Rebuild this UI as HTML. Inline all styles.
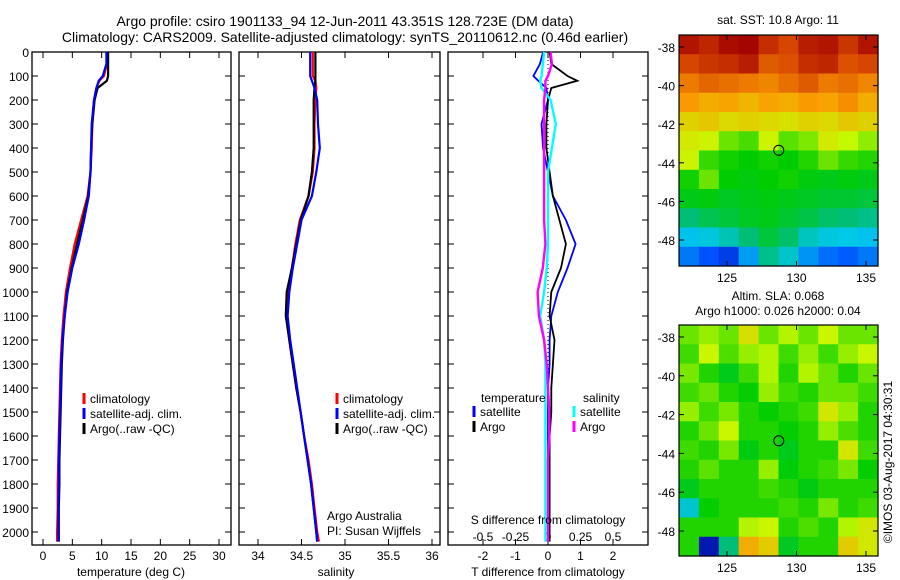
<!DOCTYPE html>
<html><head><meta charset="utf-8">
<style>
html,body{margin:0;padding:0;background:#fff;}
svg{display:block;font-family:"Liberation Sans","DejaVu Sans",sans-serif;}
text{fill:#000;}
</style></head>
<body>
<svg id="fig" width="900" height="580" viewBox="0 0 900 580" xmlns="http://www.w3.org/2000/svg">
<rect x="0" y="0" width="900" height="580" fill="#fff"/>
<text x="345" y="26" font-size="14" text-anchor="middle">Argo profile: csiro 1901133_94 12-Jun-2011 43.351S 128.723E (DM data)</text>
<text x="345" y="42" font-size="14" text-anchor="middle">Climatology: CARS2009. Satellite-adjusted climatology: synTS_20110612.nc (0.46d earlier)</text>
<g id="g"></g>
</svg>
<script>
// ---- profile data ----
const depthTicks = [0,100,200,300,400,500,600,700,800,900,1000,1100,1200,1300,1400,1500,1600,1700,1800,1900,2000];
const tempTicks = [0,5,10,15,20,25,30];
const salTicks = [34,34.5,35,35.5,36];
const salTickLabels = ['34','34.5','35','35.5','36'];
const tdTicks = [-2,-1,0,1,2];
const sdTicks = [-0.5,-0.25,0,0.25,0.5];
const sdTickLabels = ['-0.5','-0.25','0','0.25','0.5'];

const depths = [0,50,100,120,150,200,300,400,500,600,700,800,900,1000,1100,1200,1300,1400,1500,1600,1700,1800,1900,2000,2040];
const tempClim = [10.9,10.9,10.4,9.6,9.1,8.7,8.4,8.3,8.1,7.6,6.5,5.4,4.6,3.9,3.5,3.2,3.0,2.9,2.8,2.7,2.6,2.5,2.5,2.4,2.4];
const tempSat  = [10.8,10.8,10.2,9.5,9.1,8.7,8.3,8.2,8.1,7.8,7.0,6.1,5.0,4.2,3.7,3.3,3.1,3.0,2.9,2.8,2.7,2.7,2.6,2.6,2.6];
const tempArgo = [11.1,11.1,11.1,10.9,9.3,8.8,8.4,8.2,8.1,7.7,6.8,5.8,4.9,4.1,3.7,3.4,3.2,3.1,3.0,2.9,2.8,2.8,2.7,2.7,2.7];
const salClim  = [34.63,34.63,34.63,34.66,34.67,34.66,34.65,34.65,34.63,34.58,34.48,34.43,34.39,34.35,34.33,34.36,34.40,34.44,34.49,34.53,34.58,34.62,34.65,34.68,34.70];
const salSat   = [34.60,34.60,34.60,34.62,34.65,34.68,34.69,34.71,34.67,34.62,34.50,34.45,34.40,34.36,34.34,34.37,34.41,34.45,34.49,34.53,34.57,34.61,34.64,34.67,34.68];
const salArgo  = [34.66,34.66,34.66,34.66,34.65,34.64,34.64,34.64,34.62,34.58,34.49,34.44,34.39,34.33,34.32,34.36,34.40,34.44,34.49,34.53,34.57,34.61,34.64,34.67,34.68];
const tdSat    = [-0.15,-0.25,-0.45,-0.3,-0.05,0.0,-0.2,-0.15,0.0,0.15,0.55,0.85,0.6,0.3,0.1,0.05,0.05,0.0,0.0,0.0,0.0,0.0,0.0,0.0,0.0];
const tdArgo   = [0.05,0.1,0.6,0.9,0.1,0.0,-0.05,-0.05,0.05,0.15,0.35,0.55,0.4,0.1,0.05,0.2,0.15,0.1,0.1,0.05,0.05,0.05,0.05,0.05,0.05];
const sdSat    = [-0.03,-0.04,-0.05,-0.06,-0.05,0.02,0.06,0.03,0.0,0.0,0.0,0.0,-0.01,-0.03,-0.06,-0.03,-0.02,-0.02,-0.02,-0.02,-0.02,-0.02,-0.02,-0.02,-0.02];
const sdArgo   = [0.02,0.03,0.0,-0.02,-0.02,-0.03,-0.03,-0.03,-0.03,-0.03,-0.03,-0.02,-0.04,-0.08,-0.07,-0.03,-0.01,0.0,0.01,0.01,0.0,0.0,0.0,0.0,0.0];

// ---- map data (rows north->south, cols west->east) ----
const sstGrid = [
[14.6,14.4,14.7,14.8,14.3,14.0,14.5,14.6,14.2,14.6],
[14.0,14.2,14.3,14.5,13.8,13.9,14.3,14.4,13.9,14.0],
[13.5,13.7,13.6,13.5,13.4,13.6,13.8,13.5,13.6,13.4],
[13.2,13.0,13.1,12.9,13.1,13.0,13.2,13.1,13.3,13.0],
[12.6,12.7,12.5,12.6,12.5,12.4,12.6,12.5,12.7,12.6],
[12.3,12.2,11.6,11.4,12.2,11.5,11.7,12.3,12.1,11.8],
[12.2,11.3,11.1,11.0,11.1,11.0,11.2,11.6,11.3,11.2],
[11.1,11.6,11.0,10.9,11.0,11.1,10.9,10.8,10.9,10.8],
[10.8,10.9,10.7,10.8,10.9,10.8,10.7,10.6,10.6,10.5],
[10.0,10.3,10.5,10.7,10.8,10.6,10.4,10.1,10.0,9.8],
[8.8,9.0,9.4,10.0,10.5,10.1,9.3,9.0,8.9,8.8],
[8.0,7.6,7.3,8.4,9.8,9.2,8.3,7.9,7.7,8.0]];
const slaGrid = [
[0.05,0.08,0.05,0.15,0.05,0.10,0.05,0.12,0.05,0.05],
[0.02,0.12,0.03,0.08,0.10,0.02,0.08,0.02,0.08,0.12],
[0.06,0.00,-0.05,0.02,0.10,0.00,0.10,0.05,0.00,0.05],
[0.02,0.05,0.00,-0.02,0.08,0.02,0.00,0.05,0.05,0.02],
[0.08,0.02,0.06,0.00,-0.02,0.00,0.02,0.14,0.08,0.00],
[0.00,0.05,0.12,0.00,0.00,-0.02,0.00,0.08,0.03,0.00],
[0.02,0.00,0.06,-0.04,0.00,-0.05,0.00,0.00,0.14,0.02],
[0.00,0.04,0.00,0.00,0.08,-0.03,0.00,0.02,0.06,-0.02],
[-0.05,0.00,0.00,0.00,0.02,0.00,-0.04,0.00,0.00,0.00],
[-0.25,-0.02,0.00,0.00,0.00,0.02,0.00,0.06,0.00,0.02],
[0.00,0.00,0.00,0.10,0.12,0.00,0.03,0.00,0.10,0.14],
[0.00,-0.55,-0.15,0.22,0.18,-0.06,0.00,0.00,0.18,0.14]];
const latTicks = [-38,-40,-42,-44,-46,-48];
const lonTicks = [125,130,135];
const argoLon = 128.723, argoLat = -43.351;

const NS='http://www.w3.org/2000/svg';
const G=document.getElementById('g');
function mk(tag,attrs,parent){const e=document.createElementNS(NS,tag);for(const k in attrs)e.setAttribute(k,attrs[k]);(parent||G).appendChild(e);return e;}
function txt(x,y,s,size,anchor,parent){const t=mk('text',{x:x,y:y,'font-size':size,'text-anchor':anchor||'middle'},parent);t.textContent=s;return t;}
function lin(a0,a1,p0,p1){return v=>p0+(v-a0)/(a1-a0)*(p1-p0);}

const yD = lin(0,1000,52,292);
const TOP=52,BOT=545;

function panel(name,x0,x1){
  const g=mk('g',{});
  
  
  mk('rect',{x:x0,y:TOP,width:x1-x0,height:BOT-TOP,fill:'none',stroke:'#000','stroke-width':1.3},g);
  depthTicks.forEach(d=>{const y=yD(d);mk('line',{x1:x0,x2:x0+6,y1:y,y2:y,stroke:'#000'},g);mk('line',{x1:x1,x2:x1-6,y1:y,y2:y,stroke:'#000'},g);});
  return g;
}
function series(g,name,xs,sx,color,w){
  const p=mk('polyline',{points:depths.map((d,i)=>sx(xs[i]).toFixed(1)+','+yD(d).toFixed(1)).join(' '),fill:'none',stroke:color,'stroke-width':w||2.2},g);
  
  
}
function xticks(g,ticks,labels,sx,y){
  ticks.forEach((t,i)=>{const x=sx(t);mk('line',{x1:x,x2:x,y1:BOT,y2:BOT-6,stroke:'#000'},g);mk('line',{x1:x,x2:x,y1:TOP,y2:TOP+6,stroke:'#000'},g);txt(x,y,labels[i],12,'middle',g);});
}
function legend(g,x,y,items){
  items.forEach((it,i)=>{const yy=y+i*15;mk('line',{x1:x,x2:x,y1:yy-10,y2:yy+1,stroke:it[1],'stroke-width':3},g);const t=txt(x+6,yy,it[0],12,'start',g);});
}

// Panel 1: temperature
const sT=lin(0,30,43,219);
const p1=panel('temperature-panel',32,231);
depthTicks.forEach(d=>{txt(29,yD(d)+5,String(d),12,'end',p1);});
xticks(p1,tempTicks,tempTicks.map(String),sT,560);
series(p1,'temp-climatology',tempClim,sT,'#f00');
series(p1,'temp-argo',tempArgo,sT,'#000');
series(p1,'temp-satellite',tempSat,sT,'#00f');
legend(p1,84,403,[['climatology','#f00'],['satellite-adj. clim.','#00f'],['Argo(..raw -QC)','#000']]);
txt(131,576,'temperature (deg C)',12,'middle',p1);

// Panel 2: salinity
const sS=lin(34,36,258,432);
const p2=panel('salinity-panel',239,440);
xticks(p2,salTicks,salTickLabels,sS,560);
series(p2,'sal-climatology',salClim,sS,'#f00');
series(p2,'sal-argo',salArgo,sS,'#000');
series(p2,'sal-satellite',salSat,sS,'#00f');
legend(p2,337,403,[['climatology','#f00'],['satellite-adj. clim.','#00f'],['Argo(..raw -QC)','#000']]);
txt(327,520,'Argo Australia',12,'start',p2);
txt(327,535,'PI: Susan Wijffels',12,'start',p2);
txt(336,576,'salinity',12,'middle',p2);

// Panel 3: differences
const sTD=lin(0,1,548,580.5);
const sSD=lin(0,0.25,548,580.5);
const p3=panel('difference-panel',448,648);
xticks(p3,tdTicks,tdTicks.map(String),sTD,560);
sdTicks.forEach((t,i)=>txt(sSD(t),541,sdTickLabels[i],12,'middle',p3));
mk('line',{x1:sTD(0),x2:sTD(0),y1:TOP,y2:BOT,stroke:'#000','stroke-dasharray':'1,3'},p3);
series(p3,'tdiff-satellite',tdSat,sTD,'#00f',1.8);
series(p3,'tdiff-argo',tdArgo,sTD,'#000',1.8);
series(p3,'sdiff-satellite',sdSat,sSD,'#0ff',2.4);
series(p3,'sdiff-argo',sdArgo,sSD,'#f0f',2.4);
txt(481,402,'temperature',12,'start',p3);
legend(p3,474,416,[['satellite','#00f'],['Argo','#000']]);
txt(583,402,'salinity',12,'start',p3);
legend(p3,574,416,[['satellite','#0ff'],['Argo','#f0f']]);
txt(548,524,'S difference from climatology',12,'middle',p3);
txt(548,576,'T difference from climatology',12,'middle',p3);

// colormap: piecewise stops blue->cyan->green->yellow->orange->red
const cmStops=[[0,[0,0,140]],[0.15,[0,80,255]],[0.3,[0,200,235]],[0.43,[0,190,120]],[0.55,[0,205,0]],[0.68,[200,250,0]],[0.8,[250,160,0]],[0.9,[215,70,0]],[1,[160,0,0]]];
function cmap(f){f=Math.max(0,Math.min(1,f));for(let i=1;i<cmStops.length;i++){if(f<=cmStops[i][0]){const a=cmStops[i-1],b=cmStops[i],t=(f-a[0])/(b[0]-a[0]);return 'rgb('+a[1].map((c,k)=>Math.round(c+(b[1][k]-c)*t)).join(',')+')';}}return 'rgb(160,0,0)';}

function mapPanel(name,grid,vmin,vmax,x0,x1,y0,y1,latY,lonX){
  const g=mk('g',{});
  
  
  const rows=grid.length,cols=grid[0].length,cw=(x1-x0)/cols,ch=(y1-y0)/rows;
  grid.forEach((row,r)=>row.forEach((v,c)=>{
    const cell=mk('rect',{x:(x0+c*cw).toFixed(2),y:(y0+r*ch).toFixed(2),width:(cw+0.6).toFixed(2),height:(ch+0.6).toFixed(2),fill:cmap((v-vmin)/(vmax-vmin))},g);
    
    
  }));
  mk('rect',{x:x0,y:y0,width:x1-x0,height:y1-y0,fill:'none',stroke:'#000','stroke-width':1.2},g);
  latTicks.forEach(l=>{const y=latY(l);mk('line',{x1:x0,x2:x0+5,y1:y,y2:y,stroke:'#000'},g);mk('line',{x1:x1,x2:x1-5,y1:y,y2:y,stroke:'#000'},g);txt(x0-4,y+5,String(l),12,'end',g);});
  lonTicks.forEach(l=>{const x=lonX(l);mk('line',{x1:x,x2:x,y1:y1,y2:y1-5,stroke:'#000'},g);mk('line',{x1:x,x2:x,y1:y0,y2:y0+5,stroke:'#000'},g);txt(x,y1+16,String(l),12,'middle',g);});
  const m=mk('circle',{cx:lonX(argoLon),cy:latY(argoLat),r:5,fill:'none',stroke:'#000','stroke-width':1},g);
  
  
  return g;
}
mapPanel('sst-map',sstGrid,6.29,14.86,679,878,35,266,lin(-38,-48,47,240),lin(125,135,727,866));
txt(778,24,'sat. SST: 10.8 Argo: 11',12,'middle');
mapPanel('sla-map',slaGrid,-0.6,0.45,679,878,325,556,lin(-38,-48,337,531),lin(125,135,727,866));
txt(778,300,'Altim. SLA: 0.068',12,'middle');
txt(778,315,'Argo h1000: 0.026 h2000: 0.04',12,'middle');
const cr=txt(0,0,'©IMOS 03-Aug-2017 04:30:31',12,'middle');
cr.setAttribute('transform','translate(892,462) rotate(-90)');


</script>
</body></html>
